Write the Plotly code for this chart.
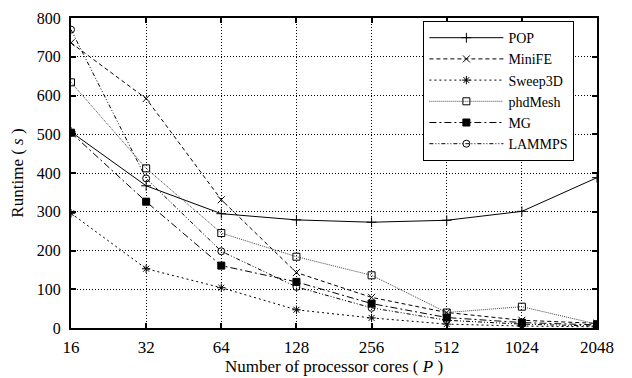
import plotly.graph_objects as go

cores = [16, 32, 64, 128, 256, 512, 1024, 2048]
tick_labels = ["16", "32", "64", "128", "256", "512", "1024", "2048"]

pop = [506, 367, 295, 279, 273, 278, 301, 388]
minife = [736, 592, 331, 143, 79, 40, 20, 12]
sweep3d = [296, 153, 104, 47, 26, 10, 5, 3]
phdmesh = [634, 412, 245, 184, 136, 40, 55, 10]
mg = [504, 326, 161, 119, 63, 27, 14, 8]
lammps = [770, 386, 198, 106, 52, 20, 10, 5]

series = [
    ("POP", pop, "solid", "cross-thin", "black"),
    ("MiniFE", minife, "4px,3px", "x-thin", "black"),
    ("Sweep3D", sweep3d, "2px,3px", "asterisk", "black"),
    ("phdMesh", phdmesh, "1px,1px", "square-open", "#444"),
    ("MG", mg, "7px,3px,2px,3px", "square", "black"),
    ("LAMMPS", lammps, "4px,2px,1px,2px,1px,2px", "circle-open", "black"),
]

fig = go.Figure()
for name, vals, dash, sym, col in series:
    fig.add_trace(go.Scatter(
        x=cores, y=vals, name=name, mode="lines+markers",
        line=dict(color=col, width=1, dash=dash),
        marker=dict(symbol=sym, size=7, color="black",
                    line=dict(color="black", width=1)),
    ))

serif = "Liberation Serif"
tfont = dict(family=serif, size=17, color="black")
yfont = dict(family=serif, size=16, color="black")

# the page body adds an 8px offset; margins compensate for it
fig.update_layout(
    width=632, height=378,
    margin=dict(l=63, r=43, t=10, b=58),
    paper_bgcolor="white", plot_bgcolor="white",
    font=tfont,
    legend=dict(x=0.957, y=0.99, xanchor="right", yanchor="top",
                bordercolor="black", borderwidth=1, bgcolor="white",
                font=dict(family=serif, size=14, color="black"),
                tracegroupgap=0, itemwidth=74),
)
fig.update_xaxes(
    type="log", range=[1.2041, 3.3113], automargin=False,
    tickvals=cores, ticktext=tick_labels,
    tickfont=tfont, ticklabelstandoff=3, ticklabeloverflow="allow",
    title=dict(text="Number of processor cores ( <i>P</i> )", standoff=2, font=tfont),
    showgrid=True, gridcolor="black", griddash="1px,2px", gridwidth=1,
    showline=True, linecolor="black", linewidth=2, mirror="ticks",
    ticks="inside", ticklen=5, tickcolor="black", tickwidth=1.5,
    zeroline=False,
)
fig.update_yaxes(
    range=[0, 800], dtick=100, automargin=False,
    tickfont=yfont, ticklabelstandoff=5, ticklabeloverflow="allow",
    title=dict(text="Runtime ( <i>s</i> )", standoff=9, font=tfont),
    showgrid=True, gridcolor="black", griddash="1px,2px", gridwidth=1,
    showline=True, linecolor="black", linewidth=2, mirror="ticks",
    ticks="inside", ticklen=5, tickcolor="black", tickwidth=1.5,
    zeroline=False,
)

fig.write_html("out.html")
